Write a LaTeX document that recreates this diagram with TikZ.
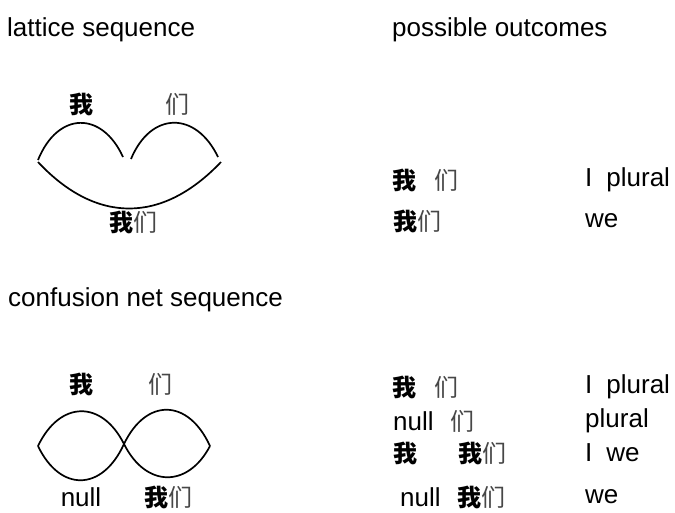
\documentclass[tikz,border=0pt]{standalone}
\usepackage{fontspec}
\setmainfont{Liberation Sans}
\newfontfamily\cjk{Noto Sans CJK SC}
% the two characters: a heavy 'wo' and a light 'men'
\newcommand\wo{{\cjk\fontsize{24}{28}\selectfont\bfseries 我}}
\newcommand\men{{\cjk\fontsize{24}{28}\selectfont\color{black!72}们}}
\begin{document}
\begin{tikzpicture}[x=1pt,y=-1pt,
    txt/.style={font=\fontsize{26}{30}\selectfont, inner sep=0pt, anchor=west},
    lab/.style={font=\fontsize{26}{30}\selectfont, inner sep=0pt},
    arc/.style={line width=1.7pt}]
  \useasboundingbox (0,0) rectangle (675,512);

  % headings
  \node[txt] (h1) at (7,30) {lattice sequence};
  \node[txt] (h2) at (392,30) {possible outcomes};
  \node[txt] (h3) at (8,300) {confusion net sequence};

  % lattice
  \coordinate (l0) at (38,160);
  \coordinate (l1) at (123,157);
  \coordinate (l2) at (131,159);
  \coordinate (l3) at (218,157);
  \coordinate (b0) at (38,162);
  \coordinate (b1) at (221,162);
  \draw[arc] (l0) .. controls (58,111) and (102,111) .. (l1);
  \draw[arc] (l2) .. controls (151,111) and (196,111) .. (l3);
  \draw[arc] (b0) .. controls (96,224) and (162,224) .. (b1);
  \node[lab] (w1) at (81,104) {\wo};
  \node[lab] (m1) at (177,104) {\men};
  \node[lab] (wm1) at (133,222) {\wo\men};

  % lattice outcomes
  \node[txt] (o1) at (392,180) {\wo\hspace{18pt}\men};
  \node[txt] (e1) at (585,180) {I\hspace{14pt}plural};
  \node[txt] (o2) at (393,221) {\wo\men};
  \node[txt] (e2) at (585,221) {we};

  % confusion net
  \coordinate (c0) at (38,446);
  \coordinate (c1) at (124,444);
  \coordinate (c2) at (210,446);
  \draw[arc] (c0) .. controls (60,400) and (102,400) .. (c1)
                  .. controls (146,488) and (188,488) .. (c2);
  \draw[arc] (c0) .. controls (60,492) and (102,492) .. (c1)
                  .. controls (146,398) and (188,398) .. (c2);
  \node[lab] (w2) at (81,384) {\wo};
  \node[lab] (m2) at (160,384) {\men};
  \node[lab] (n2) at (81,497) {null};
  \node[lab] (wm2) at (168,497) {\wo\men};

  % confusion net outcomes
  \node[txt] (p1) at (392,387) {\wo\hspace{18pt}\men};
  \node[txt] (f1) at (585,387) {I\hspace{14pt}plural};
  \node[txt] (p2) at (393,421) {null\hspace{17pt}\men};
  \node[txt] (f2) at (585,421) {plural};
  \node[txt] (p3) at (393,453) {\wo\hspace{41pt}\wo\men};
  \node[txt] (f3) at (585,453) {I\hspace{14pt}we};
  \node[txt] (p4) at (400,497) {null\hspace{17pt}\wo\men};
  \node[txt] (f4) at (585,497) {we};
\end{tikzpicture}
\end{document}
